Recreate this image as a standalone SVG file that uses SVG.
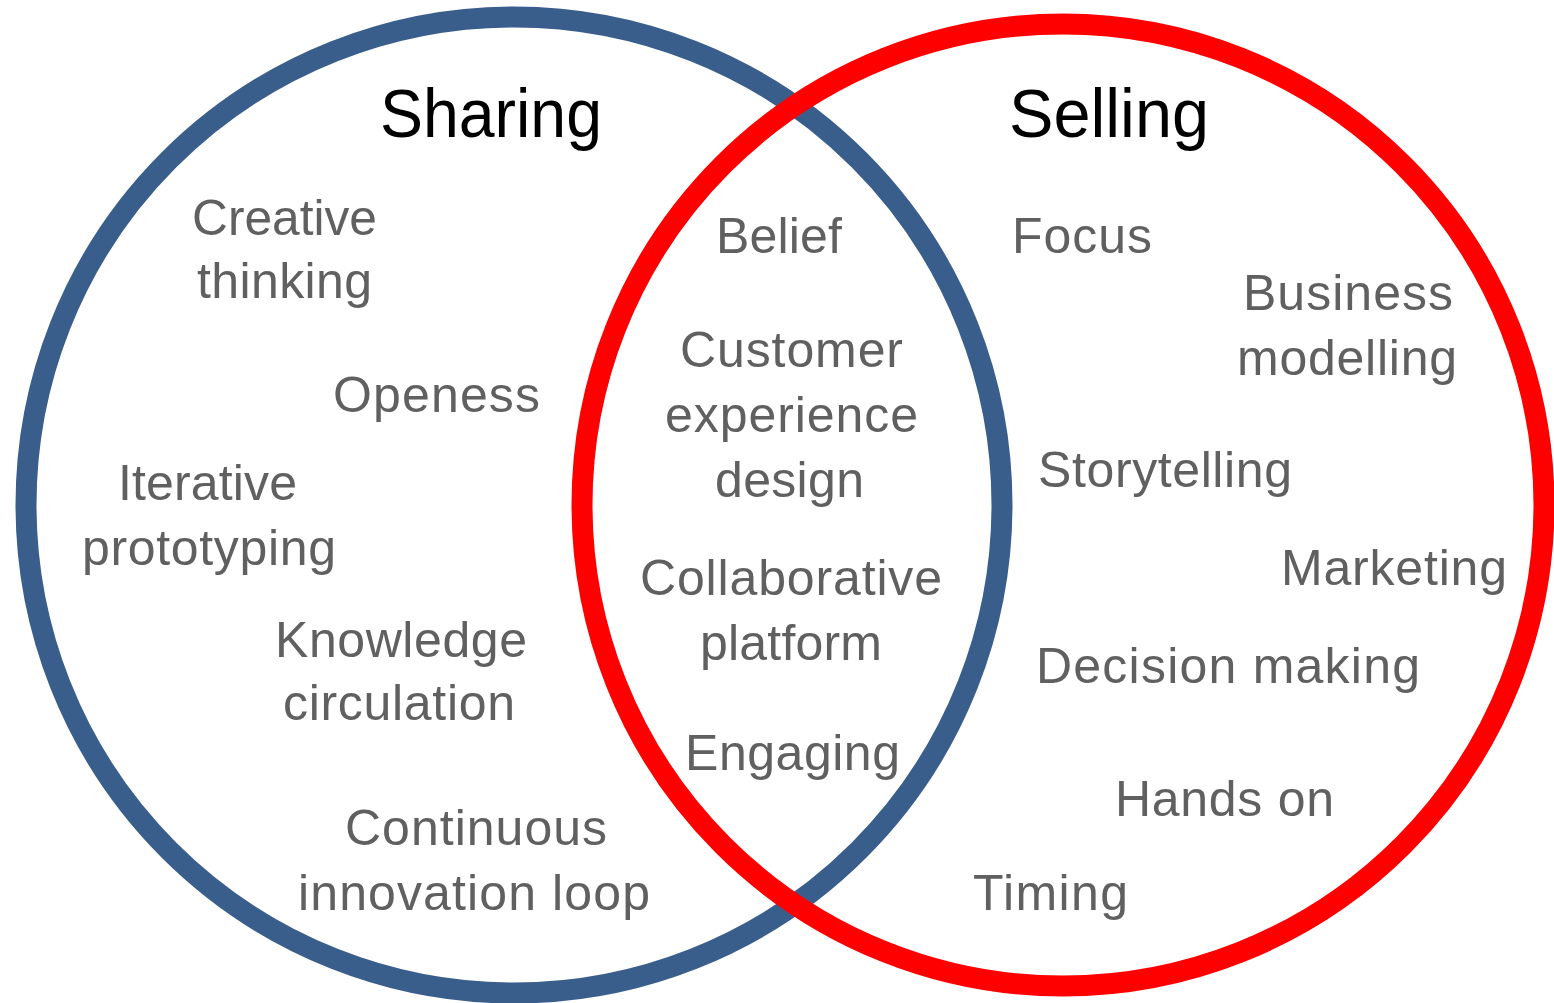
<svg xmlns="http://www.w3.org/2000/svg" width="1554" height="1003" viewBox="0 0 1554 1003">
<style>
.ring{fill:none;stroke-width:21}
.title{font-family:"Liberation Sans",Arial,sans-serif;font-size:68px;fill:#000}
.t{font-family:"Liberation Sans",Arial,sans-serif;font-size:50px;fill:#606060}
</style>
<rect width="1554" height="1003" fill="#fff"/>
<g id="circles">
<circle id="sharing-circle" class="ring" cx="514" cy="505" r="488" stroke="#3A5E8C"/>
<circle id="selling-circle" class="ring" cx="1063" cy="505" r="481" stroke="#FF0000"/>
</g>
<g id="connectors"></g>
<g id="titles">
<text id="title-sharing" class="title" x="380" y="137" textLength="222" lengthAdjust="spacingAndGlyphs">Sharing</text>
<text id="title-selling" class="title" x="1009" y="137" textLength="200" lengthAdjust="spacingAndGlyphs">Selling</text>
</g>
<g id="sharing-items">
<g id="creative-thinking">
<text class="t" x="192" y="235" textLength="185" lengthAdjust="spacingAndGlyphs">Creative</text>
<text class="t" x="197" y="298" textLength="175">thinking</text>
</g>
<g id="openess"><text class="t" x="333" y="412" textLength="207">Openess</text></g>
<g id="iterative-prototyping">
<text class="t" x="118" y="500" textLength="179">Iterative</text>
<text class="t" x="82" y="565" textLength="254">prototyping</text>
</g>
<g id="knowledge-circulation">
<text class="t" x="275" y="657" textLength="252">Knowledge</text>
<text class="t" x="283" y="720" textLength="232">circulation</text>
</g>
<g id="continuous-innovation-loop">
<text class="t" x="345" y="845" textLength="262">Continuous</text>
<text class="t" x="298" y="910" textLength="352">innovation  loop</text>
</g>
</g>
<g id="shared-items">
<g id="belief"><text class="t" x="716" y="253" textLength="126">Belief</text></g>
<g id="customer-experience-design">
<text class="t" x="680" y="367" textLength="223">Customer</text>
<text class="t" x="665" y="432" textLength="253">experience</text>
<text class="t" x="715" y="497" textLength="149">design</text>
</g>
<g id="collaborative-platform">
<text class="t" x="640" y="595" textLength="302">Collaborative</text>
<text class="t" x="700" y="660" textLength="182">platform</text>
</g>
<g id="engaging"><text class="t" x="685" y="770" textLength="215">Engaging</text></g>
</g>
<g id="selling-items">
<g id="focus"><text class="t" x="1012" y="253" textLength="140">Focus</text></g>
<g id="business-modelling">
<text class="t" x="1243" y="310" textLength="210">Business</text>
<text class="t" x="1237" y="375" textLength="220">modelling</text>
</g>
<g id="storytelling"><text class="t" x="1038" y="487" textLength="254">Storytelling</text></g>
<g id="marketing"><text class="t" x="1281" y="585" textLength="226">Marketing</text></g>
<g id="decision-making"><text class="t" x="1036" y="683" textLength="384">Decision  making</text></g>
<g id="hands-on"><text class="t" x="1115" y="816" textLength="219">Hands on</text></g>
<g id="timing"><text class="t" x="973" y="910" textLength="155">Timing</text></g>
</g>
</svg>
